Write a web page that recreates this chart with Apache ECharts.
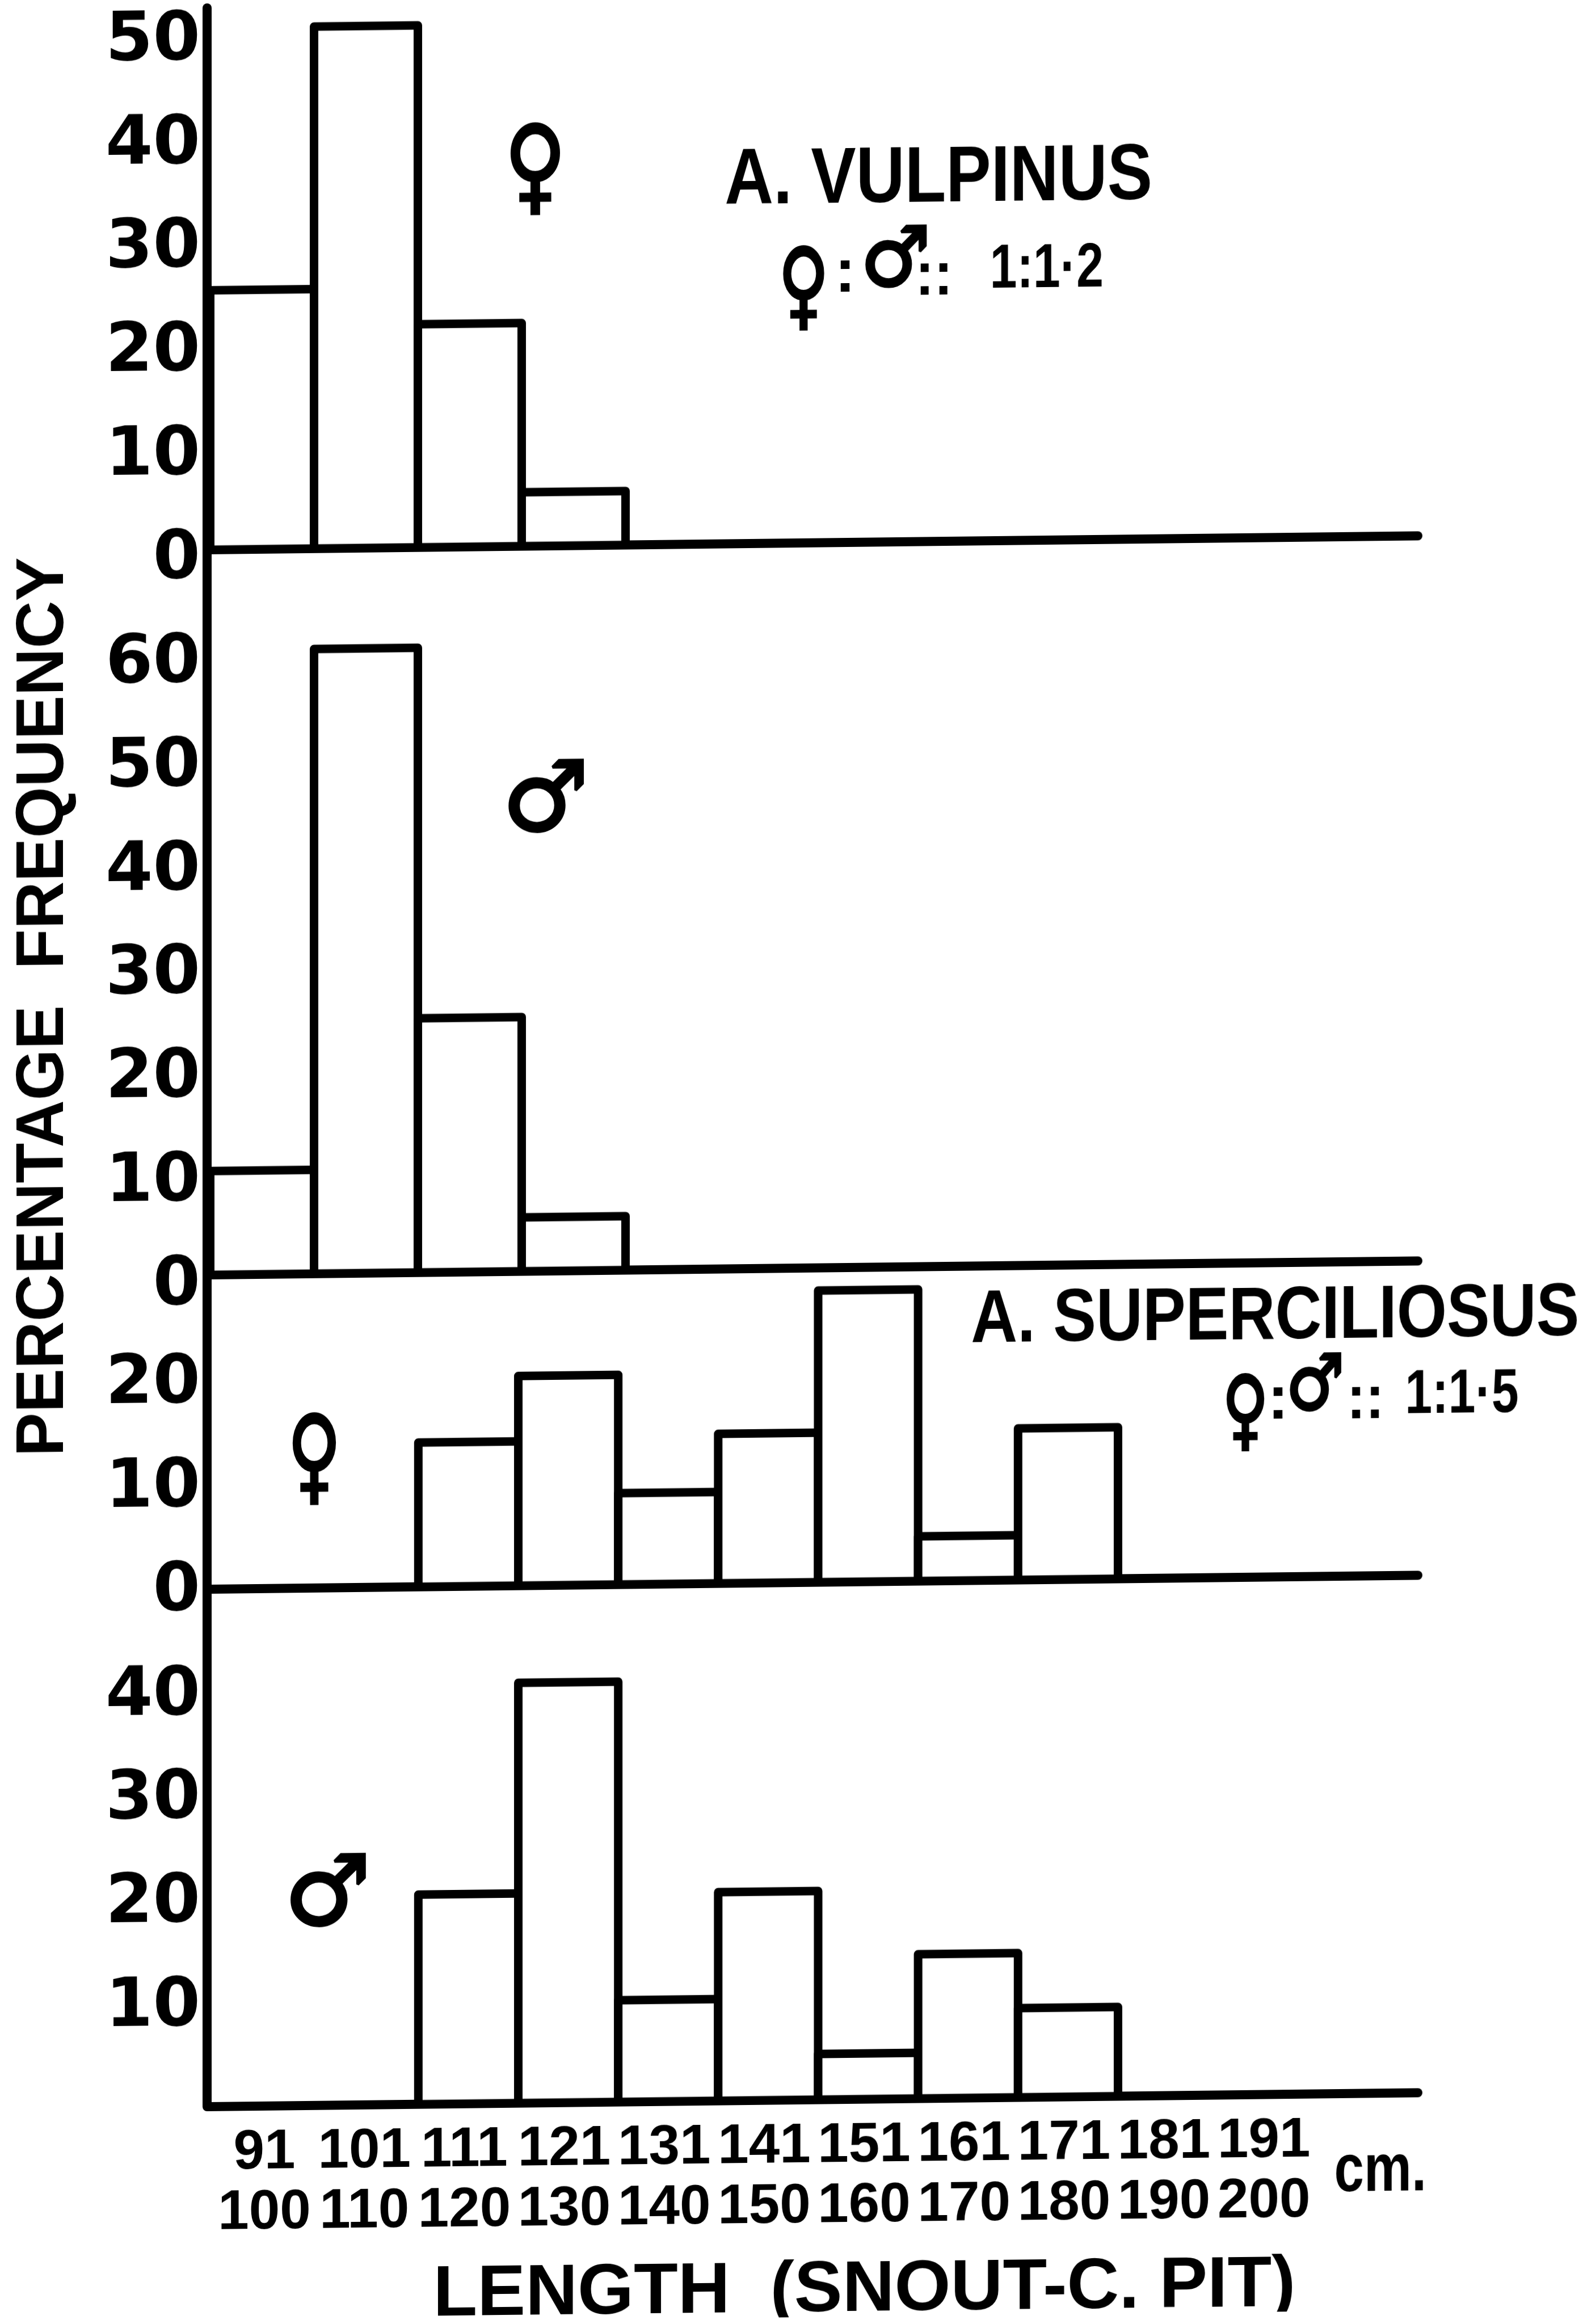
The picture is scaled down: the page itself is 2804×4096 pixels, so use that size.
<!DOCTYPE html>
<html>
<head>
<meta charset="utf-8">
<script src="https://cdn.jsdelivr.net/npm/echarts@6/dist/echarts.min.js"></script>
<style>
html,body{margin:0;padding:0;background:#fff;overflow:hidden;width:2804px;height:4096px}
#chart{width:2804px;height:4096px;transform-origin:365px 0;transform:skewY(-0.66deg)}
</style>
</head>
<body>
<div id="chart"></div>
<script>
// Bin labels (length, cm)
const binsFrom = ['91','101','111','121','131','141','151','161','171','181','191'];
const binsTo   = ['100','110','120','130','140','150','160','170','180','190','200'];
// Percentage frequency per bin; null = no bar
const vulpinusFemale = [25, 50.3, 21.5, 5.2];
const vulpinusMale   = [10, 60.2, 24.5, 5.2];
const supercFemale   = [null, null, 13.9, 20.2, 8.8, 14.4, 28.1, 4.3, 14.6, null, null];
const supercMale     = [null, null, 20.2, 40.5, 9.8, 20.1, 4.4, 13.9, 8.6, null, null];
// Y tick labels per panel
const ticksA = [0,10,20,30,40,50];
const ticksB = [0,10,20,30,40,50,60];
const ticksC = [0,10,20];
const ticksD = [10,20,30,40];

const INK = '#000';
const PX_PER_UNIT = 18.29, AXIS_X = 365, AXIS_END = 2499, LW = 16;
const SLOPE = Math.tan(0.66 * Math.PI / 180);
const K = 2804 / 1073;
const P = (xd, yd) => [xd * K, (yd + SLOPE * (xd - 140)) * K];

const panels = [
  {top: 14,   base: 969,  ticks: ticksA, shift: 36, vals: vulpinusFemale, kind: 'value'},
  {top: 969,  base: 2247, ticks: ticksB, shift: 40, vals: vulpinusMale,   kind: 'value'},
  {top: 2247, base: 2801, ticks: ticksC, shift: 10, vals: supercFemale,   kind: 'cat'},
  {top: 2801, base: 3713, ticks: ticksD, shift: 16, vals: supercMale,     kind: 'cat', labels: true}
];
const CELL_VALUE = 183, LEFT_CAT = 385, VALUE_MIN = -0.03;

// One histogram column: the axes' own scales give its corners
function renderColumn(params, api) {
  const x = api.value(0), v = api.value(1);
  const c = api.coord([x, v]), b = api.coord([x, 0]);
  const half = api.size([1, 0])[0] / 2;
  return {
    type: 'polygon',
    shape: {points: [[c[0]-half, b[1]], [c[0]-half, c[1]], [c[0]+half, c[1]], [c[0]+half, b[1]]]},
    style: {fill: '#fff', stroke: INK, lineWidth: 15, lineJoin: 'round'}
  };
}

const grid = [], xAxis = [], yAxis = [], series = [];
panels.forEach((p, i) => {
  const isCat = p.kind === 'cat';
  const left = isCat ? LEFT_CAT : AXIS_X;
  const width = AXIS_END - left;
  grid.push({left, width, top: p.top, height: p.base - p.top});
  const line = {show: true, onZero: false, lineStyle: {color: INK, width: LW, cap: 'round'}};
  xAxis.push(isCat ? {
    gridIndex: i, type: 'category', boundaryGap: true,
    data: binsFrom.map((f, j) => f + '\n' + binsTo[j]).concat(['']),
    axisLine: line, axisTick: {show: false}, splitLine: {show: false},
    axisLabel: p.labels ? {
      show: true, interval: 0, margin: 30, color: INK, hideOverlap: false, padding: [0, 14, 0, 0],
      fontFamily: 'Liberation Sans', fontWeight: 'bold', fontSize: 98, lineHeight: 106
    } : {show: false}
  } : {
    gridIndex: i, type: 'value', min: VALUE_MIN, max: VALUE_MIN + width / CELL_VALUE,
    axisLine: line, axisTick: {show: false}, splitLine: {show: false}, axisLabel: {show: false}
  });
  const ticks = p.ticks;
  yAxis.push({
    gridIndex: i, type: 'value', min: 0, max: (p.base - p.top) / PX_PER_UNIT, interval: 10,
    offset: left - AXIS_X, z: 5,
    axisLine: {show: true, onZero: false, lineStyle: {color: INK, width: LW, cap: 'round'}},
    axisTick: {show: false}, splitLine: {show: false},
    axisLabel: {
      show: true, margin: 12, color: INK, showMaxLabel: true, showMinLabel: true,
      formatter: v => ticks.includes(v) ? '{t|' + v + '}' : '',
      rich: {t: {color: INK, fontFamily: 'DejaVu Sans', fontWeight: 'bold', fontSize: 120,
                 padding: [p.shift, 0, 0, 0]}}
    }
  });
  const points = p.vals.map((v, j) => [isCat ? j : j + 0.5, v]).filter(d => d[1] !== null);
  series.push({
    type: 'custom', xAxisIndex: i, yAxisIndex: i, data: points, silent: true,
    encode: {x: 0, y: 1}, renderItem: renderColumn, clip: false
  });
});

function label(text, xd, yd, size, opts) {
  opts = opts || {};
  const [x, y] = P(xd, yd);
  const style = {
    text, x: 0, y: 0, fill: INK, align: 'center', verticalAlign: 'middle',
    font: 'bold ' + size + 'px "' + (opts.family || 'Liberation Sans') + '"'
  };
  if (opts.family) { style.stroke = INK; style.lineWidth = 5; }
  return {
    type: 'text', x, y, rotation: opts.rotation || 0,
    scaleX: opts.sx || 1, scaleY: opts.sy || 1, z: 10, style
  };
}
const DV = 'DejaVu Sans';

const graphic = [
  // pieces joining the baseline to the y axis where the columns begin further right
  {type:'rect', shape:{x:AXIS_X, y:2801-LW/2, width:LEFT_CAT-AXIS_X, height:LW}, style:{fill:INK}, z:4},
  {type:'rect', shape:{x:AXIS_X, y:3713-LW/2, width:LEFT_CAT-AXIS_X, height:LW}, style:{fill:INK}, z:4},
  label('A. VULPINUS', 633, 121, 140, {sx: 0.85}),
  label('A. SUPERCILIOSUS', 860, 889, 132, {sx: 0.86}),
  // ratio lines
  label('♀', 542, 197, 170, {family: DV, sx: 0.72}),
  label(':', 570, 185, 110),
  label('♂', 604, 178, 145, {family: DV, sx: 0.95}),
  label('::', 630, 187, 110, {sx: 0.9}),
  label('1:1·2', 706, 182, 110, {sx: 0.78}),
  label('♀', 840, 955, 155, {family: DV, sx: 0.72}),
  label(':', 862, 945, 110),
  label('♂', 887, 937, 135, {family: DV, sx: 0.85}),
  label('::', 921, 945, 110, {sx: 0.9}),
  label('1:1·5', 986, 941, 110, {sx: 0.78}),
  // sex symbols of the panels
  label('♀', 361, 117, 185, {family: DV, sx: 0.8}),
  label('♂', 368, 543, 170, {family: DV}),
  label('♀', 212, 987, 185, {family: DV, sx: 0.7}),
  label('♂', 221, 1281, 170, {family: DV}),
  label('cm.', 931, 1465, 118, {sx: 0.8}),
  label('PERCENTAGE  FREQUENCY', 30, 679, 118, {rotation: Math.PI / 2, sx: 0.98}),
  label('LENGTH  (SNOUT-C. PIT)', 583, 1545, 126, {sx: 1.01})
];

const chart = echarts.init(document.getElementById('chart'), null, {width: 2804, height: 4096, renderer: 'canvas'});
chart.setOption({
  animation: false, backgroundColor: '#fff', tooltip: {show: false},
  grid, xAxis, yAxis, series, graphic
});
</script>
</body>
</html>
